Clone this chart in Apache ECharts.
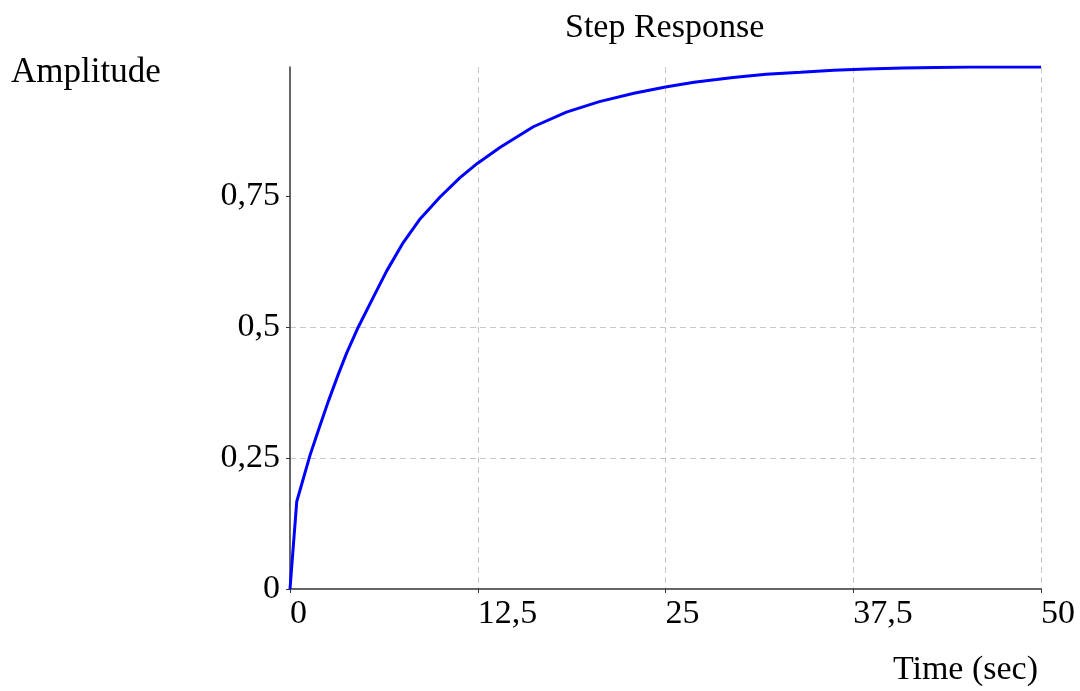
<!DOCTYPE html>
<html>
<head>
<meta charset="utf-8">
<script src="https://cdn.jsdelivr.net/npm/echarts@6/dist/echarts.min.js"></script>
<style>html,body{margin:0;padding:0;background:#fff}#c{width:1080px;height:691px}</style>
</head>
<body>
<div id="c"></div>
<script>
const timeSec = [0, 0.45, 1.33, 1.89, 2.55, 3.22, 3.77, 4.55, 5.55, 6.44, 7.54, 8.66, 9.99, 11.32, 12.47, 14.0, 16.2, 18.4, 20.6, 22.9, 25.0, 26.9, 28.4, 29.5, 31.7, 34.0, 36.2, 38.4, 40.8, 43.0, 45.3, 50.0];
const amplitude = [0, 0.167, 0.255, 0.303, 0.358, 0.410, 0.450, 0.5, 0.557, 0.607, 0.661, 0.706, 0.748, 0.785, 0.812, 0.843, 0.882, 0.910, 0.930, 0.946, 0.958, 0.967, 0.972, 0.976, 0.982, 0.986, 0.990, 0.992, 0.994, 0.995, 0.996, 0.996];
const xTicks = [0, 12.5, 25, 37.5, 50];
const yTicks = [0, 0.25, 0.5, 0.75];
const yMax = 0.996;

const font = 'Liberation Serif';
const fmt = v => String(v).replace('.', ',');

const chart = echarts.init(document.getElementById('c'), null, {renderer: 'canvas'});
chart.setOption({
  animation: false,
  backgroundColor: '#fff',
  title: [
    {text: 'Step Response', left: 560, top: 6,
     textStyle: {fontFamily: font, fontSize: 34, fontWeight: 'normal', color: '#000'}},
    {text: 'Amplitude', left: 6, top: 50,
     textStyle: {fontFamily: font, fontSize: 35, fontWeight: 'normal', color: '#000'}},
    {text: 'Time (sec)', right: 37, top: 648,
     textStyle: {fontFamily: font, fontSize: 34, fontWeight: 'normal', color: '#000'}}
  ],
  grid: {left: 290, right: 39, top: 67, bottom: 102, containLabel: false},
  xAxis: {
    type: 'value', min: 0, max: 50, interval: 12.5,
    axisLine: {show: true, lineStyle: {color: '#333', width: 1.5}},
    axisTick: {show: true, length: 4, lineStyle: {color: '#333'}},
    axisLabel: {fontFamily: font, fontSize: 34, color: '#000', align: 'left', margin: 8,
      customValues: xTicks, formatter: fmt},
    splitLine: {show: true, showMinLine: false, showMaxLine: true, lineStyle: {color: '#c8c8c8', type: [6, 4], width: 1}}
  },
  yAxis: {
    type: 'value', min: 0, max: yMax, interval: 0.25,
    axisLine: {show: true, lineStyle: {color: '#333', width: 1.5}},
    axisTick: {show: true, length: 4, lineStyle: {color: '#333'}, customValues: yTicks},
    axisLabel: {fontFamily: font, fontSize: 34, color: '#000', margin: 10,
      customValues: yTicks, formatter: fmt},
    splitLine: {show: true, showMinLine: false, showMaxLine: false, lineStyle: {color: '#c8c8c8', type: [6, 4], width: 1}}
  },
  series: [{
    type: 'line',
    data: timeSec.map((t, i) => [t, amplitude[i]]),
    showSymbol: false,
    smooth: false,
    lineStyle: {color: '#0000ff', width: 3},
    itemStyle: {color: '#0000ff'}
  }]
});
</script>
</body>
</html>
